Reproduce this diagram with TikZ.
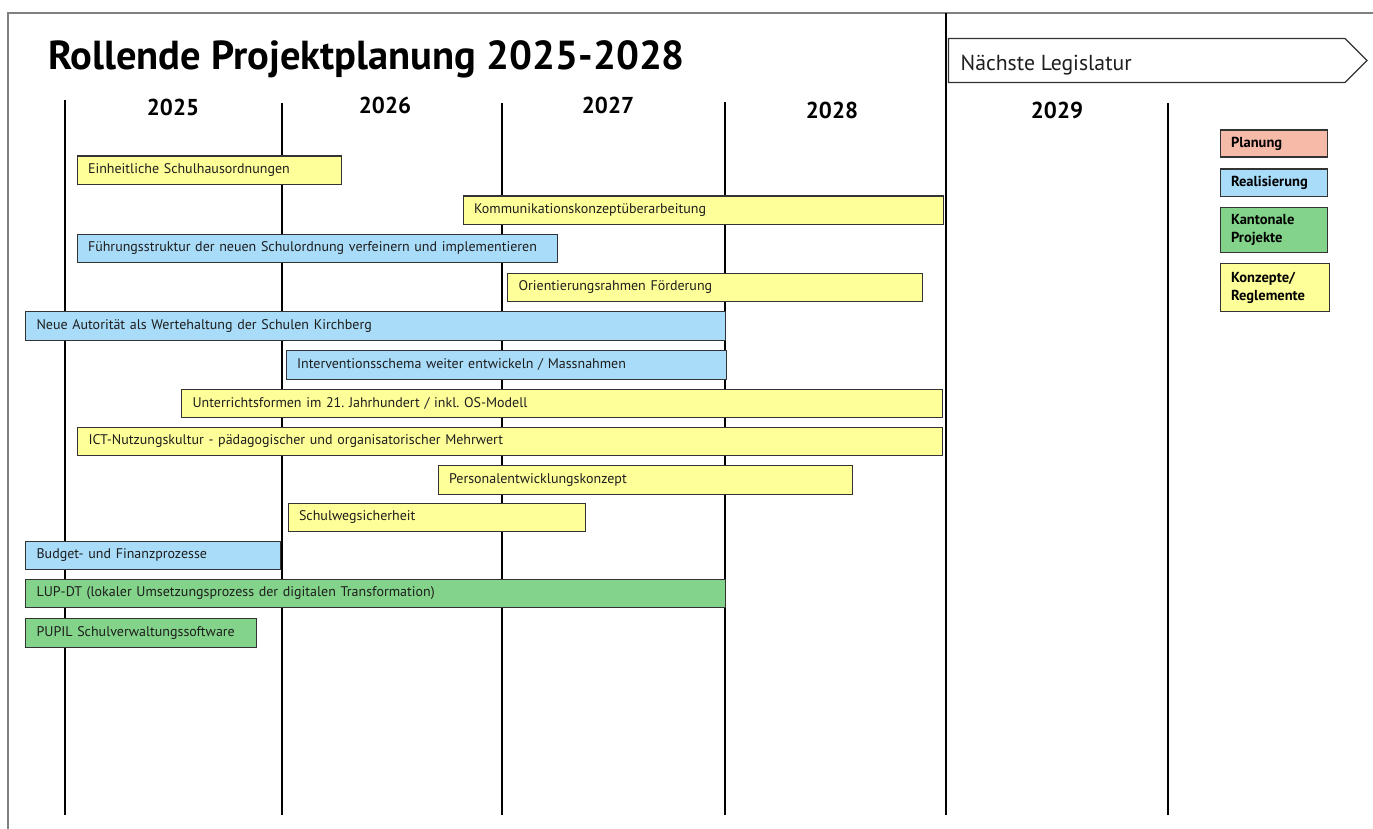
\documentclass[tikz,border=0pt]{standalone}
\usepackage{fontspec}
\setmainfont{PT Sans}
\frenchspacing
\definecolor{yel}{HTML}{FFFF99}
\definecolor{blu}{HTML}{A9DCF9}
\definecolor{grn}{HTML}{83D48A}
\definecolor{sal}{HTML}{F6BAA8}
\definecolor{barline}{HTML}{333333}
\definecolor{frame}{HTML}{808080}
\definecolor{txt}{HTML}{1E1E1E}
\begin{document}
\begin{tikzpicture}[x=1pt,y=-1pt,
  bar/.style={draw=barline, line width=1.1pt, inner xsep=11pt, inner ysep=0pt,
    minimum height=28.5pt, anchor=north west, align=left, text=txt,
    font=\fontsize{14}{16}\selectfont},
  yearlbl/.style={font=\fontsize{23}{25}\selectfont\bfseries, text=black},
  yearline/.style={line width=2pt, black},
  legbox/.style={draw=barline, line width=1.1pt, inner xsep=11pt, inner ysep=0pt,
    anchor=north west, align=left, text=black, text width=85.7pt,
    font=\fontsize{14.5}{16}\selectfont\bfseries}
]
\useasboundingbox (0,0) rectangle (1373,829);
% frame
\coordinate (ftl) at (8,13);
\coordinate (ftr) at (1373,13);
\coordinate (fbl) at (8,829);
\draw[frame, line width=1.5pt] (fbl) -- (ftl) -- (ftr);

% title
\node[anchor=base west, font=\fontsize{40.5}{42}\selectfont\bfseries, inner sep=0pt] (title) at (48,70) {Rollende Projektplanung 2025-2028};

% next legislature arrow box
\path[draw=barline, line width=1.1pt, fill=white] (948.5,38.5) coordinate (nla) -- (1345,38.5) -- (1367,60.5) coordinate (nltip) -- (1345,82.5) -- (948.5,82.5) -- cycle;
\node[anchor=base west, font=\fontsize{21.7}{23}\selectfont, inner sep=0pt, text=txt] (nl) at (960.5,70.5) {Nächste Legislatur};

% year lines
\coordinate (l1t) at (65,100);  \coordinate (l1b) at (65,815);
\coordinate (l2t) at (282,103); \coordinate (l2b) at (282,815);
\coordinate (l3t) at (502,103); \coordinate (l3b) at (502,815);
\coordinate (l4t) at (725,102); \coordinate (l4b) at (725,815);
\coordinate (l5t) at (946,13);  \coordinate (l5b) at (946,815);
\coordinate (l6t) at (1168,103); \coordinate (l6b) at (1168,815);
\draw[yearline] (l1t) -- (l1b);
\draw[yearline] (l2t) -- (l2b);
\draw[yearline] (l3t) -- (l3b);
\draw[yearline] (l4t) -- (l4b);
\draw[yearline, line width=2.6pt] (l5t) -- (l5b);
\draw[yearline] (l6t) -- (l6b);

% year labels
\node[yearlbl] (y25) at (173,107) {2025};
\node[yearlbl] (y26) at (385,105) {2026};
\node[yearlbl] (y27) at (608,105) {2027};
\node[yearlbl] (y28) at (832,110) {2028};
\node[yearlbl] (y29) at (1057,110) {2029};

% bars
\node[bar, fill=yel, text width=242.5pt] (b1) at (76.5,155.5) {Einheitliche Schulhausordnungen};
\node[bar, fill=yel, text width=458pt] (b2) at (462.5,195.5) {Kommunikationskonzeptüberarbeitung};
\node[bar, fill=blu, text width=458pt] (b3) at (76.5,233.5) {Führungsstruktur der neuen Schulordnung verfeinern und implementieren};
\node[bar, fill=yel, text width=393pt] (b4) at (507,272.5) {Orientierungsrahmen Förderung};
\node[bar, fill=blu, text width=678pt] (b5) at (25,311) {Neue Autorität als Wertehaltung der Schulen Kirchberg};
\node[bar, fill=blu, text width=418pt] (b6) at (285.5,350) {Interventionsschema weiter entwickeln / Massnahmen};
\node[bar, fill=yel, text width=739pt] (b7) at (181,388.5) {Unterrichtsformen im 21. Jahrhundert / inkl. OS-Modell};
\node[bar, fill=yel, text width=843pt] (b8) at (77,426.5) {ICT-Nutzungskultur - pädagogischer und organisatorischer Mehrwert};
\node[bar, fill=yel, text width=392pt] (b9) at (437.5,465) {Personalentwicklungskonzept};
\node[bar, fill=yel, text width=275pt] (b10) at (287.5,502.5) {Schulwegsicherheit};
\node[bar, fill=blu, text width=233pt] (b11) at (25,540.5) {Budget- und Finanzprozesse};
\node[bar, fill=grn, text width=678pt] (b12) at (25,578.5) {LUP-DT (lokaler Umsetzungsprozess der digitalen Transformation)};
\node[bar, fill=grn, text width=209pt] (b13) at (25,618) {PUPIL Schulverwaltungssoftware};

% legend
\node[legbox, fill=sal, minimum height=27pt] (lg1) at (1219.5,129.5) {Planung};
\node[legbox, fill=blu, minimum height=27.5pt] (lg2) at (1219.5,168.5) {Realisierung};
\node[legbox, fill=grn, minimum height=45pt, font=\fontsize{14.5}{18}\selectfont\bfseries] (lg3) at (1219.5,207) {Kantonale\\Projekte};
\node[legbox, fill=yel, minimum height=48pt, text width=87.5pt, font=\fontsize{14.5}{18}\selectfont\bfseries] (lg4) at (1219.5,263) {Konzepte/\\Reglemente};
\end{tikzpicture}
\end{document}
